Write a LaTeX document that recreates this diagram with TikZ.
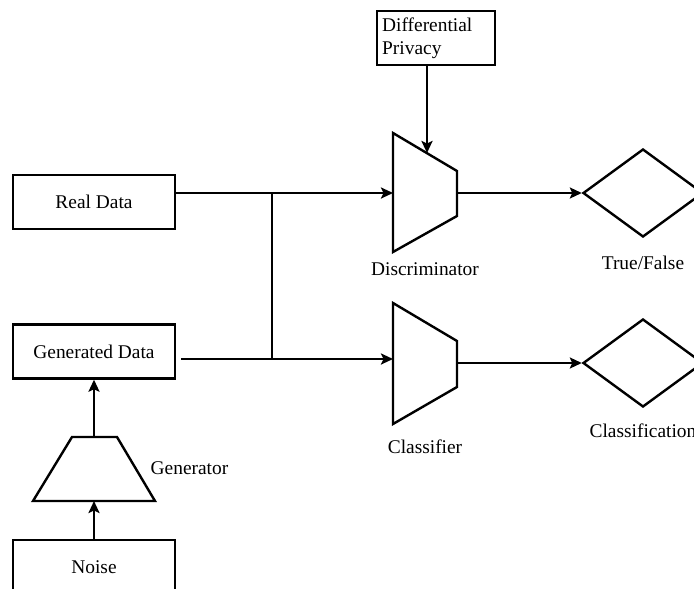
\documentclass[tikz,border=0pt]{standalone}
\usepackage{fontspec}
\setmainfont{Liberation Serif}
\usetikzlibrary{positioning}
\usetikzlibrary{shapes.geometric}
\usetikzlibrary{arrows.meta}

\tikzset{
  databox/.style={draw, line width=2.4pt, minimum width=162pt, minimum height=54pt, inner sep=0pt},
  decision/.style={draw, diamond, line width=2.4pt, minimum width=120pt, minimum height=88pt, inner sep=0pt},
  tag/.style={inner sep=0pt},
  wire/.style={line width=2.4pt},
  flow/.style={line width=2.4pt, -{Stealth[length=12pt,width=11pt,inset=2.5pt]}},
}

\begin{document}
\begin{tikzpicture}[x=1pt,y=-1pt,font=\fontsize{19.4}{23}\selectfont]
\useasboundingbox (0,0) rectangle (694,589);

% Data boxes
\node [databox] (real) at (94,202) {Real Data};
\node [databox] (generated) at (94,351.5) {Generated Data};
\node [databox] (noise) at (94,567) {Noise};
\node [draw, line width=2.4pt, text width=108pt, inner sep=5pt, minimum height=54pt, align=left, anchor=north west] (privacy) at (376,10) {Differential\\Privacy};

% Generator
\draw [wire] (33,501) -- (72,437) -- (117,437) -- (155,501) -- cycle;
\coordinate (gen_in) at (94,501);
\coordinate (gen_out) at (94,437);
\node [tag] (gen_label) at (189.5,468) {Generator};

% Discriminator
\draw [wire] (393,133) -- (457,171) -- (457,216) -- (393,252) -- cycle;
\coordinate (disc_in) at (393,193);
\coordinate (disc_out) at (457,193);
\coordinate (disc_top) at (427,153);
\node [tag] (disc_label) at (425,269) {Discriminator};

% Classifier
\draw [wire] (393,303) -- (457,341) -- (457,387) -- (393,424) -- cycle;
\coordinate (clf_in) at (393,359);
\coordinate (clf_out) at (457,363);
\node [tag] (clf_label) at (425,447) {Classifier};

% Outputs
\node [decision] (truefalse) at (643,193) {};
\node [tag, below=18pt of truefalse] (tf_label) {True/False};
\node [decision] (classification) at (643,363) {};
\node [tag, below=15pt of classification] (cls_label) {Classification};

% Connections
\coordinate (junction_top) at (272,193);
\coordinate (junction_bottom) at (272,359);
\draw [wire] (real.east |- disc_in) -- (junction_top);
\draw [wire] ([xshift=5pt]generated.east |- clf_in) -- (junction_bottom);
\draw [wire] (junction_top) -- (junction_bottom);
\draw [flow] (junction_top) -- (disc_in);
\draw [flow] (junction_bottom) -- (clf_in);
\draw [flow] (disc_out) -- (truefalse.west);
\draw [flow] (clf_out) -- (classification.west);
\draw [flow] (privacy.south -| disc_top) -- (disc_top);
\draw [flow] (noise.north) -- (gen_in);
\draw [flow] (gen_out) -- (generated.south);

\end{tikzpicture}
\end{document}
